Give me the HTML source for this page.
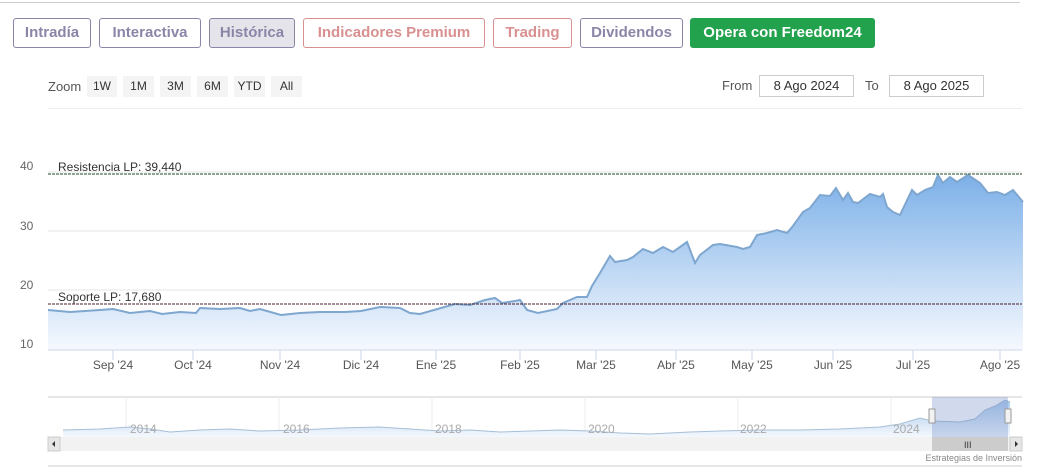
<!DOCTYPE html>
<html><head><meta charset="utf-8"><style>
body{margin:0;width:1039px;height:473px;background:#fff;position:relative;overflow:hidden;font-family:"Liberation Sans",sans-serif}
.b{position:absolute;top:18px;height:30px;border:1px solid;border-radius:3px;box-sizing:border-box;font-weight:bold;font-size:15px;line-height:28px;text-align:center}
.z{position:absolute;top:76px;height:21px;background:#f4f4f4;font-size:12px;line-height:21px;text-align:center;color:#333}
.d{position:absolute;top:75px;height:22px;border:1px solid #ccc;box-sizing:border-box;font-size:13px;line-height:20px;text-align:center;color:#333}
</style></head><body>
<div style="position:absolute;left:0;top:2px;width:1020px;height:1px;background:#ccc"></div>
<div class="b" style="left:13px;width:78px;color:#8a86a8;border-color:#8a86a8">Intradía</div>
<div class="b" style="left:99px;width:102px;color:#8a86a8;border-color:#8a86a8">Interactiva</div>
<div class="b" style="left:209px;width:86px;color:#8a86a8;border-color:#8a86a8;background:#e4e4ea">Histórica</div>
<div class="b" style="left:303px;width:182px;color:#d99090;border-color:#d99090">Indicadores Premium</div>
<div class="b" style="left:493px;width:79px;color:#d99090;border-color:#d99090">Trading</div>
<div class="b" style="left:580px;width:103px;color:#8a86a8;border-color:#8a86a8">Dividendos</div>
<div class="b" style="left:690px;width:185px;color:#fff;border-color:#23a24d;background:#23a24d">Opera con Freedom24</div>
<div style="position:absolute;left:48px;top:79px;font-size:13px;color:#555">Zoom</div>
<div class="z" style="left:87px;width:30px">1W</div>
<div class="z" style="left:123px;width:31px">1M</div>
<div class="z" style="left:160px;width:31px">3M</div>
<div class="z" style="left:197px;width:31px">6M</div>
<div class="z" style="left:234px;width:31px">YTD</div>
<div class="z" style="left:271px;width:31px">All</div>
<div style="position:absolute;left:722px;top:78px;font-size:13px;color:#555">From</div>
<div class="d" style="left:759px;width:95px">8 Ago 2024</div>
<div style="position:absolute;left:865px;top:78px;font-size:13px;color:#555">To</div>
<div class="d" style="left:889px;width:95px">8 Ago 2025</div>
<div style="position:absolute;left:48px;top:108px;width:974px;height:1px;background:#eee"></div>
<svg width="1039" height="473" style="position:absolute;left:0;top:0">
<defs><linearGradient id="g" x1="0" y1="0" x2="0" y2="1"><stop offset="0" stop-color="#7cb0e8"/><stop offset="1" stop-color="#f6f9fe"/></linearGradient>
<linearGradient id="g2" x1="0" y1="0" x2="0" y2="1"><stop offset="0" stop-color="#a9c9ec"/><stop offset="1" stop-color="#f4f8fd"/></linearGradient></defs>
<g stroke="#e6e6e6"><line x1="48" y1="231" x2="1022" y2="231"/><line x1="48" y1="290" x2="1022" y2="290"/><line x1="48" y1="172" x2="1022" y2="172"/></g>
<path d="M48,310 L70,312 100,310 113,309 130,313 150,311 162,314 180,312 196,313 200,308 220,309 240,308 250,311 260,309 281,315 300,313 320,312 345,312 361,311 380,307 400,308 410,313 420,314 441,308 455,304 470,305 485,300 495,298 502,303 515,301 520,300 527,310 538,313 557,309 563,303 577,297 587,297 592,286 600,273 610,256 615,262 627,260 633,257 643,249 653,253 663,247 673,252 680,247 687,242 695,263 700,255 713,245 720,244 737,247 743,249 750,247 757,235 767,233 777,230 787,233 793,226 803,212 810,208 820,195 830,196 836,188 843,200 848,193 853,202 858,203 870,194 880,197 883,194 887,207 893,212 900,215 912,190 917,195 925,190 933,187 938,175 943,183 950,177 957,182 968,175 980,183 988,193 997,192 1005,195 1013,190 1023,202 L1023,350 L48,350Z" fill="url(#g)" stroke="none"/>
<path d="M48,310 L70,312 100,310 113,309 130,313 150,311 162,314 180,312 196,313 200,308 220,309 240,308 250,311 260,309 281,315 300,313 320,312 345,312 361,311 380,307 400,308 410,313 420,314 441,308 455,304 470,305 485,300 495,298 502,303 515,301 520,300 527,310 538,313 557,309 563,303 577,297 587,297 592,286 600,273 610,256 615,262 627,260 633,257 643,249 653,253 663,247 673,252 680,247 687,242 695,263 700,255 713,245 720,244 737,247 743,249 750,247 757,235 767,233 777,230 787,233 793,226 803,212 810,208 820,195 830,196 836,188 843,200 848,193 853,202 858,203 870,194 880,197 883,194 887,207 893,212 900,215 912,190 917,195 925,190 933,187 938,175 943,183 950,177 957,182 968,175 980,183 988,193 997,192 1005,195 1013,190 1023,202" fill="none" stroke="#7ea6cf" stroke-width="2"/>
<line x1="48" y1="174" x2="1022" y2="174" stroke="#1f4a2a" stroke-dasharray="3,1"/>
<line x1="48" y1="304" x2="1022" y2="304" stroke="#4a1f2a" stroke-dasharray="3,1"/>
<line x1="48" y1="350" x2="1022" y2="350" stroke="#ccd6eb"/>
<g font-size="12" fill="#333"><text x="58" y="171">Resistencia LP: 39,440</text><text x="58" y="301">Soporte LP: 17,680</text></g>
<g font-size="12" fill="#666"><text x="20" y="170">40</text><text x="20" y="230">30</text><text x="20" y="289">20</text><text x="20" y="348">10</text></g>
<g stroke="#ccd6eb"><line x1="113" y1="350" x2="113" y2="360"/><line x1="193" y1="350" x2="193" y2="360"/><line x1="280" y1="350" x2="280" y2="360"/><line x1="361" y1="350" x2="361" y2="360"/><line x1="436" y1="350" x2="436" y2="360"/><line x1="520" y1="350" x2="520" y2="360"/><line x1="596" y1="350" x2="596" y2="360"/><line x1="676" y1="350" x2="676" y2="360"/><line x1="752" y1="350" x2="752" y2="360"/><line x1="833" y1="350" x2="833" y2="360"/><line x1="913" y1="350" x2="913" y2="360"/><line x1="1000" y1="350" x2="1000" y2="360"/></g>
<g font-size="12" fill="#555" text-anchor="middle"><text x="113" y="369">Sep '24</text><text x="193" y="369">Oct '24</text><text x="280" y="369">Nov '24</text><text x="361" y="369">Dic '24</text><text x="436" y="369">Ene '25</text><text x="520" y="369">Feb '25</text><text x="596" y="369">Mar '25</text><text x="676" y="369">Abr '25</text><text x="752" y="369">May '25</text><text x="833" y="369">Jun '25</text><text x="913" y="369">Jul '25</text><text x="1000" y="369">Ago '25</text></g>
<line x1="48" y1="397" x2="1022" y2="397" stroke="#ccc"/>
<g stroke="#eee"><line x1="126" y1="397" x2="126" y2="437"/><line x1="279" y1="397" x2="279" y2="437"/><line x1="432" y1="397" x2="432" y2="437"/><line x1="585" y1="397" x2="585" y2="437"/><line x1="738" y1="397" x2="738" y2="437"/><line x1="891" y1="397" x2="891" y2="437"/></g>
<path d="M63,430 L100,429 130,427 150,429 170,432 200,430 230,429 260,431 300,430 340,428 380,427 410,429 440,431 470,430 500,432 530,431 560,430 590,431 620,433 650,434 690,432 720,431 760,430 800,430 840,429 880,427 900,424 920,418 932,421 960,422 975,419 985,410 995,406 1005,400 1010,402 L1010,437 L63,437Z" fill="url(#g2)"/>
<path d="M63,430 L100,429 130,427 150,429 170,432 200,430 230,429 260,431 300,430 340,428 380,427 410,429 440,431 470,430 500,432 530,431 560,430 590,431 620,433 650,434 690,432 720,431 760,430 800,430 840,429 880,427 900,424 920,418 932,421 960,422 975,419 985,410 995,406 1005,400 1010,402" fill="none" stroke="#a8bfd6" stroke-width="1"/>
<g font-size="12" fill="#aaa"><text x="130" y="433">2014</text><text x="283" y="433">2016</text><text x="435" y="433">2018</text><text x="588" y="433">2020</text><text x="740" y="433">2022</text><text x="893" y="433">2024</text></g>
<rect x="932" y="397" width="76" height="40" fill="rgba(102,133,194,0.3)"/>
<rect x="929" y="409" width="6" height="14" fill="#f2f2f2" stroke="#999"/><rect x="1005" y="409" width="6" height="14" fill="#f2f2f2" stroke="#999"/>
<rect x="48" y="437" width="974" height="14" fill="#f2f2f2"/>
<rect x="48" y="437" width="12" height="14" fill="#e6e6e6" stroke="#ccc"/><rect x="1010" y="437" width="12" height="14" fill="#e6e6e6" stroke="#ccc"/>
<rect x="932" y="437" width="76" height="14" fill="#ccc"/>
<text x="964" y="448" font-size="9" fill="#333">III</text>
<path d="M52,444 l3,-3 v6z M1018,444 l-3,-3 v6z" fill="#333"/>
<text x="1022" y="461" font-size="9" fill="#888" text-anchor="end">Estrategias de Inversión</text>
<line x1="48" y1="466" x2="1022" y2="466" stroke="#ccc"/>
</svg>
</body></html>
